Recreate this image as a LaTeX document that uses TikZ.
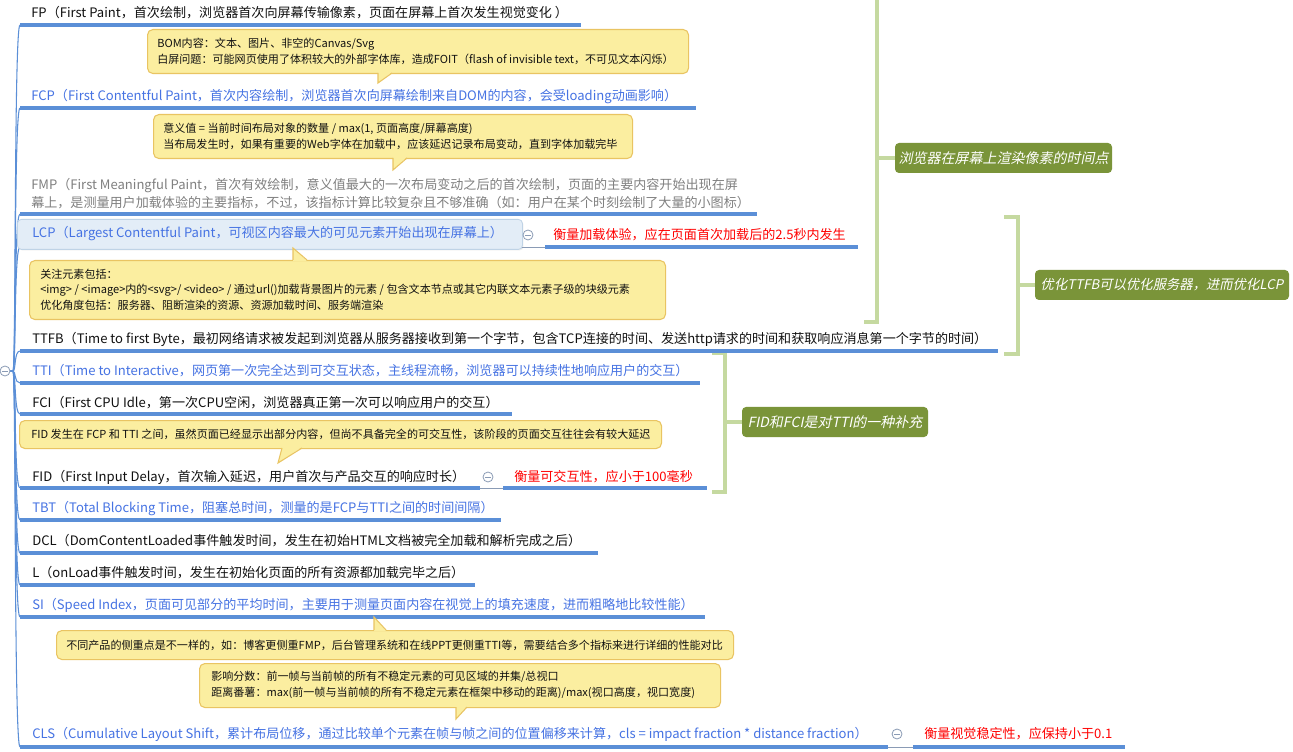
\documentclass[tikz,border=0pt]{standalone}
\usepackage{fontspec}
\setmainfont{Noto Sans CJK SC}
\newfontfamily\cjkslant[FakeSlant=0.2]{Noto Sans CJK SC}
\usetikzlibrary{calc,shadows}
\definecolor{lineblue}{HTML}{5B8FD7}
\definecolor{textblue}{HTML}{4673E3}
\definecolor{fmpgray}{HTML}{808080}
\definecolor{notefill}{HTML}{FBEEA0}
\definecolor{noteborder}{HTML}{E9C462}
\definecolor{lblgreen}{HTML}{7A9439}
\definecolor{brgreen}{HTML}{C5D9A0}
\definecolor{lcpfill}{HTML}{E3EDF7}
\definecolor{lcpborder}{HTML}{BFD3E6}
\definecolor{cgray}{HTML}{8A9BB5}
\definecolor{ink}{HTML}{111111}
\newcommand\mmBranch[3]{%
  \coordinate (#1S) at (20,#2);
  \coordinate (#1E) at (#3,#2);
  \draw[br] (root) .. controls (16,371) and (14,#2) .. (#1S);
  \draw[ul] (#1S) -- (#1E);}
\begin{document}
\begin{tikzpicture}[x=0.75pt,y=-0.75pt,
 topic/.style={anchor=west, inner sep=0pt, text=ink, font=\fontsize{9.8}{13}\selectfont},
 ntext/.style={anchor=west, inner sep=0pt, text=ink, align=left, font=\fontsize{8.3}{12}\selectfont},
 ul/.style={draw=lineblue, line width=2.3pt},
 br/.style={draw=lineblue, line width=0.8pt},
 thin/.style={draw=cgray, line width=0.6pt},
 nbox/.style={draw=noteborder, fill=notefill, line width=0.8pt, rounded corners=4pt, anchor=north west, inner sep=0pt},
 nptr/.style={fill=notefill},
 nptrline/.style={draw=noteborder, line width=0.8pt},
 glabel/.style={fill=lblgreen, rounded corners=3pt, text=white, inner sep=0pt, font=\cjkslant\fontsize{10.5}{12}\selectfont, minimum height=22.5pt},
 bracket/.style={draw=brgreen, line width=3pt, line join=miter},
 collapse/.style={circle, draw=cgray, fill=white, line width=0.6pt, minimum size=7.5pt, inner sep=0pt, path picture={\draw[cgray, line width=0.6pt] ([xshift=-2.1pt]path picture bounding box.center) -- ([xshift=2.1pt]path picture bounding box.center);}},
 redlbl/.style={topic, text=red},
 lcpsel/.style={fill=lcpfill, draw=lcpborder, line width=0.6pt, rounded corners=3pt, anchor=north west, inner sep=0pt, minimum width=378.75pt, minimum height=22.5pt, drop shadow={opacity=0.15, shadow xshift=0.8pt, shadow yshift=-0.8pt}},
]
\useasboundingbox (0,0) rectangle (1293,752);
\fill[white] (0,0) rectangle (1293,752);

% ---------- green brackets and labels ----------
\node[glabel, minimum width=162.75pt] (g1) at (1003.5,158) {浏览器在屏幕上渲染像素的时间点};
\node[glabel, minimum width=190.5pt, font=\cjkslant\fontsize{10}{12}\selectfont] (g2) at (1162,285) {优化TTFB可以优化服务器，进而优化LCP};
\node[glabel, minimum width=139.5pt] (g3) at (835,422) {FID和FCI是对TTI的一种补充};

\coordinate (b1top) at (877,-5);
\coordinate (b1bot) at (877,322);
\coordinate (b1hook) at (864,322);
\coordinate (b1mid) at (877,158);
\draw[bracket] (b1top) -- (b1bot) -- (b1hook);
\draw[bracket] (b1mid) -- (g1.west);

\coordinate (b2a) at (1004,217);
\coordinate (b2b) at (1018,217);
\coordinate (b2c) at (1018,354);
\coordinate (b2d) at (1004,354);
\coordinate (b2mid) at (1018,285);
\draw[bracket] (b2a) -- (b2b) -- (b2c) -- (b2d);
\draw[bracket] (b2mid) -- (g2.west);

\coordinate (b3a) at (712,353);
\coordinate (b3b) at (725,353);
\coordinate (b3c) at (725,492);
\coordinate (b3d) at (712,492);
\coordinate (b3mid) at (725,422);
\draw[bracket] (b3a) -- (b3b) -- (b3c) -- (b3d);
\draw[bracket] (b3mid) -- (g3.west);

% ---------- root ----------
\coordinate (root) at (13,371);
\coordinate (rootL) at (-2,371);
\draw[br] (rootL) -- (root);

% ---------- branches ----------
\mmBranch{fp}{25}{581}
\mmBranch{fcp}{108}{696}
\mmBranch{fmp}{214}{757}
\mmBranch{lcp}{247}{520}
\mmBranch{ttfb}{351}{998}
\mmBranch{tti}{383}{700}
\mmBranch{fci}{414}{512}
\mmBranch{fid}{488}{480}
\mmBranch{tbt}{520}{501}
\mmBranch{dcl}{553}{598}
\mmBranch{l}{585}{475}
\mmBranch{si}{617}{705}
\mmBranch{cls}{747}{888}

\node[collapse] (rootc) at (5,371) {};

% ---------- topics ----------
\node[topic] (fp) at (31,13) {FP（First Paint，首次绘制，浏览器首次向屏幕传输像素，页面在屏幕上首次发生视觉变化 ）};
\node[topic, text=textblue] (fcp) at (31,97) {FCP（First Contentful Paint，首次内容绘制，浏览器首次向屏幕绘制来自DOM的内容，会受loading动画影响）};
\node[topic, text=fmpgray, align=left, font=\fontsize{9.8}{13.5}\selectfont] (fmp) at (31,194) {FMP（First Meaningful Paint，首次有效绘制，意义值最大的一次布局变动之后的首次绘制，页面的主要内容开始出现在屏\\幕上，是测量用户加载体验的主要指标，不过，该指标计算比较复杂且不够准确（如：用户在某个时刻绘制了大量的小图标）};

\node[lcpsel] (lcpbox) at (17,219) {};
\node[topic, text=textblue] (lcp) at (32,234) {LCP（Largest Contentful Paint，可视区内容最大的可见元素开始出现在屏幕上）};
\coordinate (lcpA) at (522,247);
\coordinate (lcpB) at (545,247);
\coordinate (lcpC) at (858,247);
\draw[thin] (lcpA) -- (lcpB);
\draw[ul] (lcpB) -- (lcpC);
\node[collapse] (lcpc) at (528,235) {};
\node[redlbl] (lcpr) at (553,235) {衡量加载体验，应在页面首次加载后的2.5秒内发生};

\node[topic] (ttfb) at (32,339) {TTFB（Time to first Byte，最初网络请求被发起到浏览器从服务器接收到第一个字节，包含TCP连接的时间、发送http请求的时间和获取响应消息第一个字节的时间）};
\node[topic, text=textblue] (tti) at (32,371) {TTI（Time to Interactive，网页第一次完全达到可交互状态，主线程流畅，浏览器可以持续性地响应用户的交互）};
\node[topic] (fci) at (32,403) {FCI（First CPU Idle，第一次CPU空闲，浏览器真正第一次可以响应用户的交互）};

\node[topic] (fid) at (32,477) {FID（First Input Delay，首次输入延迟，用户首次与产品交互的响应时长）};
\coordinate (fidA) at (480,488);
\coordinate (fidB) at (503,488);
\coordinate (fidC) at (707,488);
\draw[thin] (fidA) -- (fidB);
\draw[ul] (fidB) -- (fidC);
\node[collapse] (fidc) at (488,477) {};
\node[redlbl] (fidr) at (514,477) {衡量可交互性，应小于100毫秒};

\node[topic, text=textblue] (tbt) at (32,509) {TBT（Total Blocking Time，阻塞总时间，测量的是FCP与TTI之间的时间间隔）};
\node[topic] (dcl) at (32,541) {DCL（DomContentLoaded事件触发时间，发生在初始HTML文档被完全加载和解析完成之后）};
\node[topic] (l) at (32,573) {L（onLoad事件触发时间，发生在初始化页面的所有资源都加载完毕之后）};
\node[topic, text=textblue] (si) at (32,605) {SI（Speed Index，页面可见部分的平均时间，主要用于测量页面内容在视觉上的填充速度，进而粗略地比较性能）};

\node[topic, text=textblue] (cls) at (32,734) {CLS（Cumulative Layout Shift，累计布局位移，通过比较单个元素在帧与帧之间的位置偏移来计算，cls = impact fraction * distance fraction）};
\coordinate (clsA) at (888,747);
\coordinate (clsB) at (913,747);
\coordinate (clsC) at (1125,747);
\draw[thin] (clsA) -- (clsB);
\draw[ul] (clsB) -- (clsC);
\node[collapse] (clsc) at (897,734) {};
\node[redlbl] (clsr) at (924,734) {衡量视觉稳定性，应保持小于0.1};

% ---------- notes ----------
% N1 (FCP)
\node[nbox, minimum width=405.75pt, minimum height=33pt] (n1) at (147,29) {};
\coordinate (n1p) at (378,83);
\fill[nptr] (378,72) -- (n1p) -- (392,72) -- cycle;
\draw[nptrline] (378,73) -- (n1p) -- (392,73);
\node[ntext] (n1t) at (157,51) {BOM内容：文本、图片、非空的Canvas/Svg\\白屏问题：可能网页使用了体积较大的外部字体库，造成FOIT（flash of invisible text，不可见文本闪烁）};

% N2 (FMP)
\node[nbox, minimum width=359.25pt, minimum height=33pt] (n2) at (153,114) {};
\coordinate (n2p) at (393,170);
\fill[nptr] (393,157) -- (n2p) -- (407,157) -- cycle;
\draw[nptrline] (393,158) -- (n2p) -- (407,158);
\node[ntext] (n2t) at (163,136) {意义值 = 当前时间布局对象的数量 / max(1, 页面高度/屏幕高度)\\当布局发生时，如果有重要的Web字体在加载中，应该延迟记录布局变动，直到字体加载完毕};

% N3 (LCP)
\node[nbox, minimum width=477pt, minimum height=44.25pt] (n3) at (29,260) {};
\coordinate (n3p) at (293,248);
\fill[nptr] (293,261) -- (n3p) -- (307,261) -- cycle;
\draw[nptrline] (293,260) -- (n3p) -- (307,260);
\node[ntext, font=\fontsize{8.3}{11.6}\selectfont] (n3t) at (40,289.5) {关注元素包括：\\<img> / <image>内的<svg>/ <video> / 通过url()加载背景图片的元素 / 包含文本节点或其它内联文本元素子级的块级元素\\优化角度包括：服务器、阻断渲染的资源、资源加载时间、服务端渲染};

% N4 (FID)
\node[nbox, minimum width=481.5pt, minimum height=21pt] (n4) at (19,420) {};
\coordinate (n4p) at (278,463);
\fill[nptr] (282,447) -- (n4p) -- (302,447) -- cycle;
\draw[nptrline] (282,448) -- (n4p) -- (302,448);
\node[ntext] (n4t) at (31,434) {FID 发生在 FCP 和 TTI 之间，虽然页面已经显示出部分内容，但尚不具备完全的可交互性，该阶段的页面交互往往会有较大延迟};

% N5 (SI)
\node[nbox, minimum width=507.75pt, minimum height=21.75pt] (n5) at (56,630) {};
\coordinate (n5p) at (374,617);
\fill[nptr] (374,631) -- (n5p) -- (386,631) -- cycle;
\draw[nptrline] (374,630) -- (n5p) -- (386,630);
\node[ntext] (n5t) at (66,645) {不同产品的侧重点是不一样的，如：博客更侧重FMP，后台管理系统和在线PPT更侧重TTI等，需要结合多个指标来进行详细的性能对比};

% N6 (CLS)
\node[nbox, minimum width=390.75pt, minimum height=33pt] (n6) at (199,663) {};
\coordinate (n6p) at (456,719);
\fill[nptr] (456,706) -- (n6p) -- (467,706) -- cycle;
\draw[nptrline] (456,707) -- (n6p) -- (467,707);
\node[ntext] (n6t) at (211,685) {影响分数：前一帧与当前帧的所有不稳定元素的可见区域的并集/总视口\\距离番薯：max(前一帧与当前帧的所有不稳定元素在框架中移动的距离)/max(视口高度，视口宽度)};
\end{tikzpicture}
\end{document}
